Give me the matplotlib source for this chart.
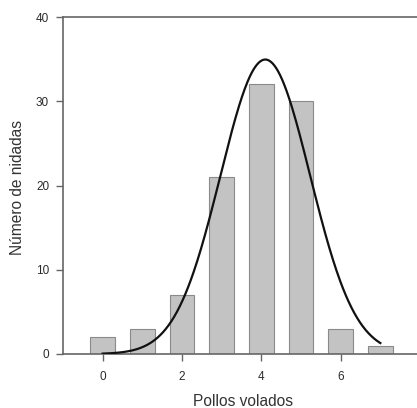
import numpy as np
import matplotlib
matplotlib.use("Agg")
import matplotlib.pyplot as plt
from matplotlib.transforms import blended_transform_factory

categories = [0, 1, 2, 3, 4, 5, 6, 7]
counts = [2, 3, 7, 21, 32, 30, 3, 1]
xticks = [0, 2, 4, 6]
yticks = [0, 10, 20, 30, 40]
curve_mean = 4.1
curve_sd = 1.13
curve_range = (0, 7)

plt.rcParams['font.family'] = ['Liberation Sans', 'DejaVu Sans']

fig = plt.figure(figsize=(4.17, 4.08), dpi=100)
ax = fig.add_axes([63/417, 1-354/408, 357/417, 337/408])

ax.bar(categories, counts, width=0.63, color='#c3c3c3', edgecolor='#8a8a8a', linewidth=0.8, zorder=2)

n = sum(counts)
xs = np.linspace(curve_range[0], curve_range[1], 300)
ys = n / (curve_sd * np.sqrt(2*np.pi)) * np.exp(-0.5*((xs-curve_mean)/curve_sd)**2)
ax.plot(xs, ys, color='#111111', linewidth=1.6, zorder=3)

ax.set_xlim(-1, 8)
ax.set_ylim(0, 40)
ax.set_xticks(xticks)
ax.set_yticks(yticks)
ax.spines['right'].set_visible(False)
for s in ['left', 'top', 'bottom']:
    ax.spines[s].set_color('#666666')
    ax.spines[s].set_linewidth(1.2)
ax.tick_params(axis='both', direction='out', length=5, width=1, color='#666666',
               labelsize=8.5, labelcolor='#2a2a2a')
ax.tick_params(axis='y', pad=5)
ax.tick_params(axis='x', pad=7)
ax.set_xlabel('Pollos volados', fontsize=11.2, color='#333333', va='center', ha='center')
ax.set_ylabel('Número de nidadas', fontsize=11.2, color='#333333', va='center', ha='center')
ax.xaxis.set_label_coords(243/417, 7/408, transform=fig.transFigure)
ax.yaxis.set_label_coords(18/417, 1-188/408, transform=fig.transFigure)

fig.savefig('out.png', dpi=100)
